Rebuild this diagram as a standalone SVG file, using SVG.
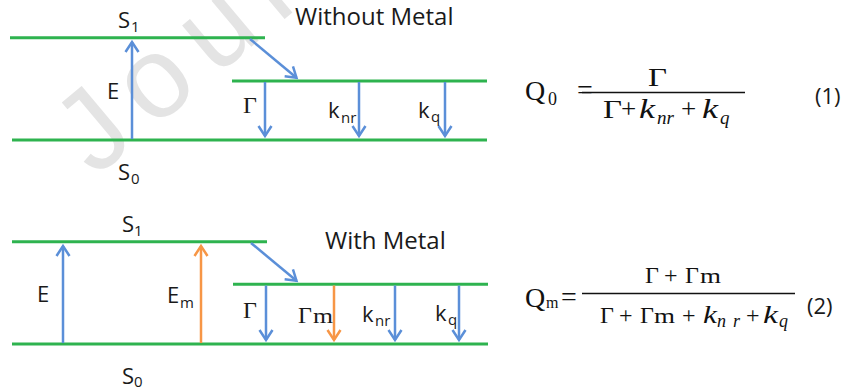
<svg xmlns="http://www.w3.org/2000/svg" width="847" height="389" viewBox="0 0 847 389">
<style>
.lv{stroke:#2eb34f;stroke-width:3;fill:none}
.ab{stroke:#5b8fd8;stroke-width:2.5;fill:none;marker-end:url(#mb)}
.ao{stroke:#f79646;stroke-width:2.5;fill:none;marker-end:url(#mo)}
.lb{font-family:"Open Sans","Liberation Sans",sans-serif;font-size:22px;fill:#1a1a1a}
.sb{font-family:"Open Sans","Liberation Sans",sans-serif;font-size:15px;fill:#1a1a1a}
.tt{font-family:"Open Sans","Liberation Sans",sans-serif;font-size:24px;fill:#1a1a1a}
.sr{font-family:"Liberation Serif","Times New Roman",serif;font-size:24px;fill:#1a1a1a}
.eq{font-family:"Liberation Serif","Times New Roman",serif;font-size:26px;fill:#111}
.es{font-family:"Liberation Serif","Times New Roman",serif;font-size:18px;fill:#111}
.it{font-style:italic}
.wm{font-family:"Liberation Sans",sans-serif;font-size:115px;letter-spacing:18px;fill:#e4e4e4}
</style>
<defs>
<marker id="mb" viewBox="-13 -9 17 18" refX="0" refY="0" markerWidth="17" markerHeight="18" markerUnits="userSpaceOnUse" orient="auto"><path d="M-10,-6.5 L0,0 L-10,6.5" fill="none" stroke="#5b8fd8" stroke-width="2.5"/></marker>
<marker id="mo" viewBox="-13 -9 17 18" refX="0" refY="0" markerWidth="17" markerHeight="18" markerUnits="userSpaceOnUse" orient="auto"><path d="M-10,-6.5 L0,0 L-10,6.5" fill="none" stroke="#f79646" stroke-width="2.5"/></marker>
</defs>
<rect width="847" height="389" fill="#fff"/>
<text class="wm" transform="translate(95,178) rotate(-40)">Journal</text>

<g id="top-levels">
<line class="lv" x1="10" y1="37.7" x2="265" y2="37.7"/>
<line class="lv" x1="232" y1="81" x2="487" y2="81"/>
<line class="lv" x1="12" y1="140" x2="487" y2="140"/>
</g>
<g id="bottom-levels">
<line class="lv" x1="12" y1="241.7" x2="267" y2="241.7"/>
<line class="lv" x1="233" y1="284.3" x2="488" y2="284.3"/>
<line class="lv" x1="12" y1="344" x2="488" y2="344"/>
</g>

<g id="connectors">
<line class="ab" x1="132" y1="139" x2="132" y2="42"/>
<line class="ab" x1="250" y1="39" x2="296.5" y2="77.7"/>
<line class="ab" x1="265" y1="82" x2="265" y2="136"/>
<line class="ab" x1="359" y1="82" x2="359" y2="136"/>
<line class="ab" x1="445" y1="82" x2="445" y2="136"/>
<line class="ab" x1="63" y1="343" x2="63" y2="246"/>
<line class="ao" x1="201" y1="343" x2="201" y2="246"/>
<line class="ab" x1="251" y1="243" x2="296.5" y2="280.7"/>
<line class="ab" x1="266" y1="285.5" x2="266" y2="340"/>
<line class="ao" x1="334" y1="285.5" x2="334" y2="340"/>
<line class="ab" x1="395" y1="285.5" x2="395" y2="340"/>
<line class="ab" x1="459" y1="285.5" x2="459" y2="340"/>
</g>

<g id="top-labels">
<text class="lb" x="118" y="28">S</text><text class="sb" x="131" y="32">1</text>
<text class="tt" x="295" y="25">Without Metal</text>
<text class="lb" x="107" y="99">E</text>
<text class="sr" x="243" y="113">Γ</text>
<text class="lb" x="328" y="118">k</text><text class="sb" x="341" y="123">nr</text>
<text class="lb" x="418" y="118">k</text><text class="sb" x="431" y="122">q</text>
<text class="lb" x="118" y="180">S</text><text class="sb" x="131" y="184">0</text>
</g>

<g id="bottom-labels">
<text class="lb" x="122" y="232">S</text><text class="sb" x="134" y="236">1</text>
<text class="tt" x="325" y="249">With Metal</text>
<text class="lb" x="37" y="302">E</text>
<text class="lb" x="167" y="303">E</text><text class="sb" x="180" y="308">m</text>
<text class="sr" x="243" y="318">Γ</text>
<text class="sr" x="298" y="323">Γ</text><text class="sr" x="313" y="323" style="font-size:22px" textLength="20" lengthAdjust="spacingAndGlyphs">m</text>
<text class="lb" x="362" y="322">k</text><text class="sb" x="375" y="326">nr</text>
<text class="lb" x="435" y="321">k</text><text class="sb" x="448" y="325">q</text>
<text class="lb" x="122" y="384">S</text><text class="sb" x="134" y="387">0</text>
</g>

<g id="equation-1">
<text class="eq" x="525" y="100" style="font-size:28px">Q</text><text class="es" x="548" y="105">0</text>
<text class="eq" x="577" y="99" style="font-size:28px">=</text>
<line x1="582" y1="92.5" x2="745" y2="92.5" stroke="#111" stroke-width="1.6"/>
<text class="eq" x="648" y="86" style="font-size:25px" textLength="19" lengthAdjust="spacingAndGlyphs">Γ</text>
<text class="eq" x="603" y="118" style="font-size:25px" textLength="19" lengthAdjust="spacingAndGlyphs">Γ</text>
<text class="eq" x="621" y="118" style="font-size:27px">+</text>
<text class="eq it" x="639" y="118" style="font-size:27px" textLength="16" lengthAdjust="spacingAndGlyphs">k</text><text class="es it" x="657" y="124" style="font-size:19px">nr</text>
<text class="eq" x="681" y="118" style="font-size:27px">+</text>
<text class="eq it" x="702" y="118" style="font-size:27px" textLength="16" lengthAdjust="spacingAndGlyphs">k</text><text class="es it" x="720" y="124" style="font-size:19px">q</text>
<text class="lb" x="815" y="104">(1)</text>
</g>

<g id="equation-2">
<text class="eq" x="525" y="307" style="font-size:28px">Q</text><text class="es" x="546" y="308" style="font-size:16px">m</text>
<text class="eq" x="561" y="306" style="font-size:28px">=</text>
<line x1="582" y1="293.5" x2="795" y2="293.5" stroke="#111" stroke-width="1.6"/>
<text class="eq" x="645" y="283" style="font-size:24px">Γ</text>
<text class="eq" x="664" y="283" style="font-size:24px">+</text>
<text class="eq" x="685" y="283" style="font-size:24px">Γ</text><text class="es" x="700" y="283" style="font-size:22px" textLength="21" lengthAdjust="spacingAndGlyphs">m</text>
<text class="eq" x="600" y="323" style="font-size:24px">Γ</text>
<text class="eq" x="619" y="323" style="font-size:24px">+</text>
<text class="eq" x="640" y="323" style="font-size:24px">Γ</text><text class="es" x="654" y="323" style="font-size:22px" textLength="21" lengthAdjust="spacingAndGlyphs">m</text>
<text class="eq" x="682" y="323" style="font-size:24px">+</text>
<text class="eq it" x="703" y="323" style="font-size:25px" textLength="14" lengthAdjust="spacingAndGlyphs">k</text><text class="es it" x="717" y="327">n</text><text class="es it" x="733" y="327">r</text>
<text class="eq" x="746" y="323" style="font-size:24px">+</text>
<text class="eq it" x="763" y="323" style="font-size:25px" textLength="15" lengthAdjust="spacingAndGlyphs">k</text><text class="es it" x="779" y="327">q</text>
<text class="lb" x="807" y="314">(2)</text>
</g>
</svg>
